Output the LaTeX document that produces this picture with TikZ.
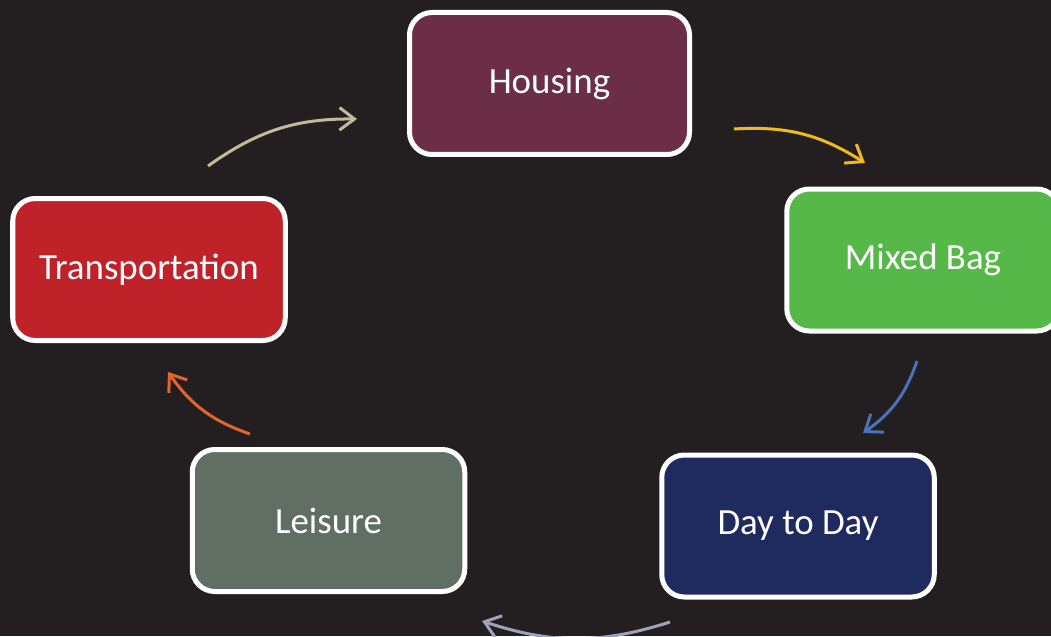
\documentclass[tikz,border=0pt]{standalone}
\usepackage{fontspec}
\setmainfont{Carlito}
\usepackage{tikz}
\usetikzlibrary{arrows.meta}

\definecolor{bgdark}{RGB}{35,31,32}
\definecolor{housecol}{RGB}{107,46,69}
\definecolor{bagcol}{RGB}{87,184,74}
\definecolor{transcol}{RGB}{192,34,42}
\definecolor{leisurecol}{RGB}{97,110,100}
\definecolor{daycol}{RGB}{31,42,94}
\definecolor{tanarr}{RGB}{190,188,155}
\definecolor{yellowarr}{RGB}{240,185,30}
\definecolor{bluearr}{RGB}{74,112,190}
\definecolor{grayarr}{RGB}{160,162,188}
\definecolor{orangearr}{RGB}{228,100,42}

\begin{document}
\begin{tikzpicture}[
		box/.style={draw=white,line width=1mm,rounded corners=.45cm,text=white,
			font=\fontsize{21}{25}\selectfont,minimum width=5.45cm,minimum height=2.84cm},
		cycarrow/.style={line width=.6mm,-{Straight Barb[length=.3cm,width=.45cm]},bend left=18}]
			\fill[bgdark] (0,0) rectangle (21.02,12.72);
			\useasboundingbox (0,0) rectangle (21.02,12.72);
			
			\node[box,fill=housecol,minimum width=5.6cm] (housing) at (10.99,11.05) {Housing};
			\node[box,fill=bagcol] (bag) at (18.46,7.52) {Mixed Bag};
			\node[box,fill=daycol] (day) at (15.96,2.20) {Day to Day};
			\node[box,fill=leisurecol] (leisure) at (6.57,2.31) {Leisure};
			\node[box,fill=transcol] (trans) at (2.98,7.33) {Transportation};
			
			% arrow ends, clockwise
			\coordinate (ta) at (4.16,9.40);
			\coordinate (tb) at (7.14,10.34);
			\coordinate (ha) at (14.68,10.14);
			\coordinate (hb) at (17.30,9.46);
			\coordinate (ba) at (18.34,5.50);
			\coordinate (bb) at (17.26,4.06);
			\coordinate (da) at (13.40,.28);
			\coordinate (db) at (9.64,.30);
			\coordinate (la) at (5.00,4.04);
			\coordinate (lb) at (3.36,5.28);
			
			\draw[cycarrow,tanarr] (ta) to (tb);
			\draw[cycarrow,yellowarr] (ha) to (hb);
			\draw[cycarrow,bluearr] (ba) to (bb);
			\draw[cycarrow,grayarr] (da) to (db);
			\draw[cycarrow,orangearr] (la) to (lb);
		\end{tikzpicture}
\end{document}
